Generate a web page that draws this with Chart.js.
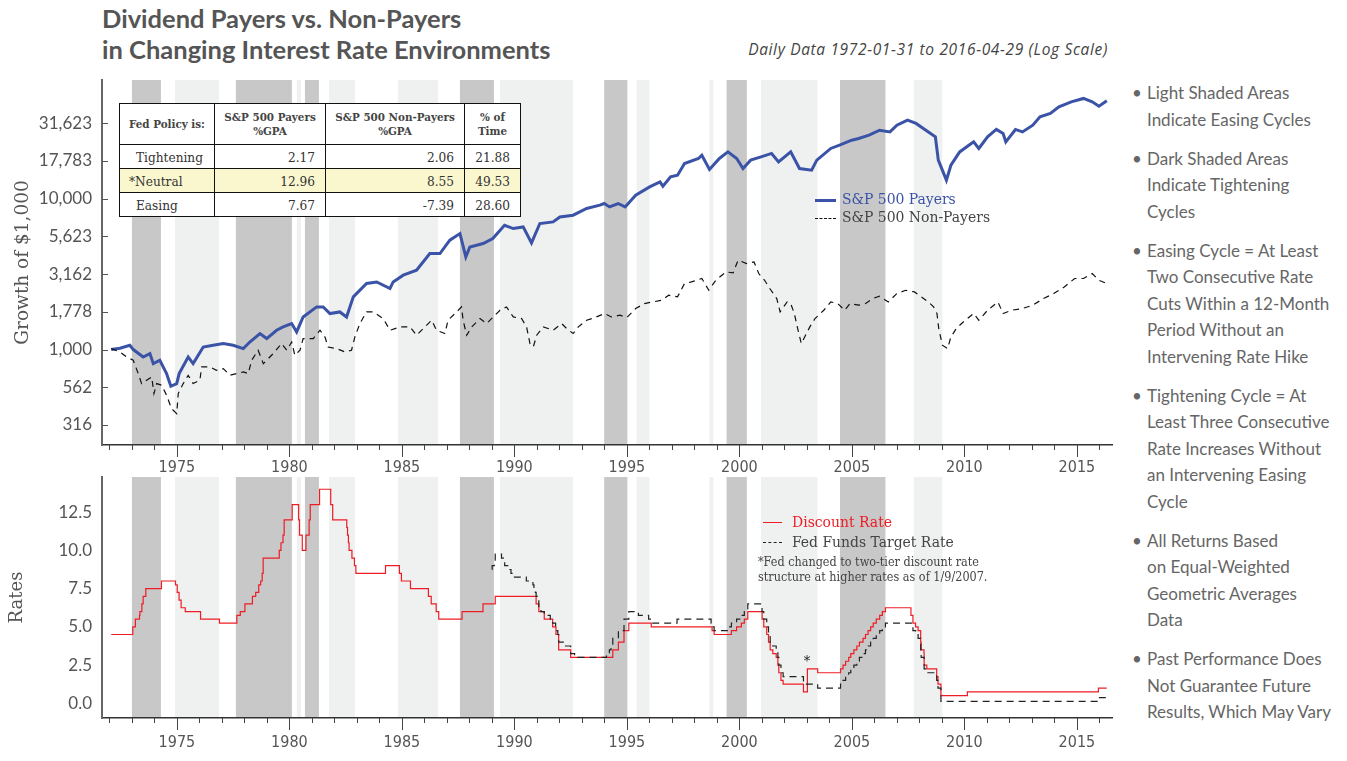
<!DOCTYPE html>
<html><head><meta charset="utf-8">
<script src="https://cdn.jsdelivr.net/npm/chart.js@4.4.0/dist/chart.umd.min.js"></script>
<style>
html,body{margin:0;padding:0;background:#fff;}
body{width:1347px;height:761px;overflow:hidden;position:relative;font-family:Lato,sans-serif;}
#title{position:absolute;left:102px;top:3px;font-family:Lato;font-weight:700;font-size:25.5px;color:#555;line-height:31px;white-space:nowrap;}
#subtitle{position:absolute;right:239px;top:38px;font-family:'Open Sans';font-style:italic;font-size:15.5px;letter-spacing:0.65px;color:#444;white-space:nowrap;}
#c1{position:absolute;left:0;top:70px;}
#c2{position:absolute;left:0;top:467px;}
#tbl{position:absolute;left:119px;top:103px;border-collapse:collapse;font-family:'DejaVu Serif Condensed','DejaVu Serif',serif;color:#333;background:#fff;}
#tbl td,#tbl th{border:1.5px solid #111;padding:0;}
#tbl th{font-size:11.5px;font-weight:700;line-height:14px;height:40px;text-align:center;color:#444;}
#tbl td{font-size:13.5px;height:23px;text-align:right;padding-right:10px;}
#tbl td.l{text-align:left;padding-left:16px;padding-right:0;}
#tbl tr.neu td{background:#faf7cf;}
#tbl tr.neu td.l{padding-left:9px;}
.lg{position:absolute;font-family:'DejaVu Serif Condensed','DejaVu Serif',serif;white-space:nowrap;}
.sw{position:absolute;height:0;}
#notes{position:absolute;left:1132px;top:80px;font-family:Lato;font-size:17px;color:#666;line-height:26.5px;}
#notes div{position:relative;padding-left:15px;margin-bottom:12.5px;white-space:nowrap;}
#notes div:before{content:'\2022';position:absolute;left:0;top:0;}
</style></head>
<body>
<div id="title">Dividend Payers vs. Non-Payers<br>in Changing Interest Rate Environments</div>
<div id="subtitle">Daily Data 1972-01-31 to 2016-04-29 (Log Scale)</div>
<canvas id="c1" width="1125" height="410"></canvas>
<canvas id="c2" width="1125" height="294"></canvas>
<table id="tbl"></table>

<div class="sw" style="left:815px;top:199px;width:21px;border-top:3px solid #3a53a7;"></div>
<div class="lg" style="left:842px;top:190px;font-size:15.5px;color:#3a53a7;">S&amp;P 500 Payers</div>
<div class="sw" style="left:815px;top:218px;width:21px;border-top:1.3px dashed #111;"></div>
<div class="lg" style="left:842px;top:208px;font-size:15.5px;color:#444;">S&amp;P 500 Non-Payers</div>

<div class="sw" style="left:763px;top:522px;width:19px;border-top:1.3px solid #ee1c25;"></div>
<div class="lg" style="left:792px;top:513px;font-size:15.5px;color:#ee1c25;">Discount Rate</div>
<div class="sw" style="left:763px;top:542px;width:19px;border-top:1.3px dashed #222;"></div>
<div class="lg" style="left:792px;top:533px;font-size:15.5px;color:#444;">Fed Funds Target Rate</div>
<div class="lg" style="left:758px;top:554px;font-size:12.5px;line-height:15px;color:#444;">*Fed changed to two-tier discount rate<br>structure at higher rates as of 1/9/2007.</div>

<div id="notes">
<div>Light Shaded Areas<br>Indicate Easing Cycles</div>
<div>Dark Shaded Areas<br>Indicate Tightening<br>Cycles</div>
<div>Easing Cycle = At Least<br>Two Consecutive Rate<br>Cuts Within a 12-Month<br>Period Without an<br>Intervening Rate Hike</div>
<div>Tightening Cycle = At<br>Least Three Consecutive<br>Rate Increases Without<br>an Intervening Easing<br>Cycle</div>
<div>All Returns Based<br>on Equal-Weighted<br>Geometric Averages<br>Data</div>
<div>Past Performance Does<br>Not Guarantee Future<br>Results, Which May Vary</div>
</div>

<script>
// ---------- DATA ----------
const xTickLabels = ['1975','1980','1985','1990','1995','2000','2005','2010','2015'];
const growthTicks = [316.23, 562.34, 1000, 1778.28, 3162.28, 5623.41, 10000, 17782.8, 31622.8];
const growthTickLabels = ['316','562','1,000','1,778','3,162','5,623','10,000','17,783','31,623'];
const rateTicks = [0, 2.5, 5, 7.5, 10, 12.5];
const rateTickLabels = ['0.0','2.5','5.0','7.5','10.0','12.5'];

const tighteningStart = [1973.00, 1977.62, 1980.69, 1987.58, 1993.99, 1999.43, 2004.47];
const tighteningEnd   = [1974.29, 1980.11, 1981.31, 1989.09, 1995.02, 2000.33, 2006.49];
const easingStart = [1974.91, 1980.33, 1981.76, 1984.82, 1989.36, 1995.43, 1998.67, 2000.96, 2007.75];
const easingEnd   = [1976.87, 1980.51, 1982.91, 1986.60, 1992.60, 1996.00, 1998.84, 2003.47, 2009.02];

const payersYears = [
1972.08,1972.47,1972.91,1973.06,1973.50,1973.80,1973.95,1974.24,1974.54,1974.73,
1974.99,1975.10,1975.50,1975.72,1976.17,1976.61,1977.06,1977.50,1977.95,1978.24,
1978.69,1978.99,1979.43,1979.72,1980.10,1980.32,1980.61,1981.21,1981.50,1981.80,
1982.24,1982.54,1982.84,1983.43,1983.88,1984.47,1984.61,1985.06,1985.65,1986.24,
1986.69,1987.13,1987.58,1987.84,1988.02,1988.61,1989.04,1989.56,1989.95,1990.39,
1990.76,1991.13,1991.72,1992.02,1992.61,1993.21,1993.80,1993.99,1994.23,1994.61,
1994.92,1995.39,1996.01,1996.47,1996.60,1996.94,1997.25,1997.56,1998.18,1998.33,
1998.67,1999.11,1999.49,1999.88,2000.16,2000.50,2000.96,2001.43,2001.74,2002.28,
2002.67,2003.21,2003.44,2004.06,2004.45,2004.99,2005.30,2005.76,2006.23,2006.69,
2007.00,2007.47,2007.85,2008.40,2008.71,2008.84,2009.20,2009.40,2009.79,2010.41,
2010.64,2011.03,2011.42,2011.72,2011.84,2012.27,2012.58,2013.04,2013.36,2013.82,
2014.20,2014.75,2015.29,2015.68,2015.98,2016.33];
const payersValues = [
1000,1020,1068,1000,893,941,807,849,693,571,
595,693,893,807,1040,1068,1096,1068,1015,1122,
1277,1183,1343,1413,1487,1308,1645,1917,1917,1733,
1776,1645,2234,2740,2807,2539,2807,3110,3357,4330,
4330,5308,5875,4111,4786,5042,5440,6668,6340,6500,
5090,6845,7015,7570,7775,8610,9058,9290,8823,9290,
8823,10550,11970,12910,12100,13950,14320,17120,18480,19430,
15620,18480,20420,18480,15850,18000,18930,19950,17540,20420,
15850,15450,18000,21530,22640,24430,25060,26360,28450,27720,
30720,33160,31530,27720,25700,18000,13270,16670,20420,23800,
21530,25700,28770,27060,23800,28770,27720,30720,34860,36720,
40630,43850,46190,43850,41060,44530];

const nonPayersYears = [
1972.08,1972.47,1972.76,1973.06,1973.28,1973.43,1973.65,1973.88,1973.98,1974.10,
1974.32,1974.54,1974.76,1974.99,1975.06,1975.28,1975.50,1975.72,1976.02,1976.10,
1976.47,1976.76,1977.06,1977.36,1977.65,1977.95,1978.17,1978.32,1978.61,1978.84,
1978.99,1979.28,1979.65,1979.88,1980.10,1980.24,1980.47,1980.61,1981.06,1981.36,
1981.58,1981.72,1982.10,1982.47,1982.76,1982.91,1983.13,1983.43,1983.72,1984.17,
1984.47,1984.91,1985.36,1985.65,1986.02,1986.32,1986.54,1986.91,1987.05,1987.36,
1987.65,1987.72,1987.88,1988.10,1988.47,1988.76,1989.06,1989.36,1989.65,1989.95,
1990.32,1990.54,1990.69,1990.84,1990.99,1991.28,1991.72,1992.10,1992.32,1992.61,
1992.84,1993.21,1993.58,1994.00,1994.31,1994.69,1995.00,1995.39,1995.78,1996.16,
1996.55,1996.86,1997.25,1997.56,1997.87,1998.33,1998.64,1998.95,1999.41,1999.72,
1999.94,2000.32,2000.65,2000.86,2001.12,2001.35,2001.66,2001.81,2002.12,2002.28,
2002.44,2002.59,2002.75,2002.90,2003.13,2003.36,2003.75,2004.06,2004.37,2004.68,
2004.91,2005.30,2005.61,2005.92,2006.23,2006.62,2007.00,2007.39,2007.78,2008.09,
2008.40,2008.63,2008.78,2008.86,2009.02,2009.25,2009.40,2009.64,2009.95,2010.41,
2010.64,2011.03,2011.49,2011.72,2012.11,2012.58,2013.04,2013.51,2013.97,2014.44,
2014.90,2015.29,2015.68,2015.98,2016.33];
const nonPayersValues = [
1015,964,893,849,693,595,626,658,511,595,
580,498,406,376,511,595,675,595,626,767,
767,729,748,675,693,710,693,849,990,807,
849,941,1096,990,1122,917,990,1183,1183,1343,
1212,1040,1015,964,990,1212,1487,1776,1776,1605,
1343,1413,1413,1244,1413,1564,1343,1277,1564,1733,
1917,1564,1244,1413,1605,1487,1645,1823,1917,1645,
1605,1413,1096,1040,1244,1413,1343,1487,1378,1277,
1413,1564,1630,1733,1645,1689,1630,1871,2018,2069,
2123,2291,2234,2740,2807,2958,2472,2880,3270,3220,
3910,3715,3810,3190,2880,2539,2178,1776,2069,2018,
1733,1378,1096,1212,1413,1605,1823,2069,2018,1823,
2018,1968,2018,2178,2257,2069,2352,2472,2410,2234,
2069,1917,1733,1378,1068,1015,1212,1378,1524,1733,
1564,1823,2069,1733,1823,1871,1968,2178,2352,2600,
2958,2958,3190,2880,2740];

const discountDates = ['1972-01-31','1973-01-15','1973-02-26','1973-05-04','1973-05-11','1973-06-11','1973-07-02','1973-08-14','1974-04-25','1974-12-09',
'1975-01-06','1975-02-05','1975-03-10','1975-05-16','1976-01-19','1976-11-22','1977-08-31','1977-10-26','1978-01-09','1978-05-11',
'1978-07-03','1978-08-21','1978-09-22','1978-10-16','1978-11-01','1979-07-20','1979-08-17','1979-09-19','1979-10-08','1980-02-15',
'1980-05-30','1980-06-13','1980-07-28','1980-09-26','1980-11-17','1980-12-05','1981-05-05','1981-11-02','1981-12-04','1982-07-20',
'1982-08-02','1982-08-16','1982-08-27','1982-10-12','1982-11-22','1982-12-15','1984-04-09','1984-11-21','1984-12-24','1985-05-20',
'1986-03-07','1986-04-21','1986-07-11','1986-08-21','1987-09-04','1988-08-09','1989-02-24','1990-12-19','1991-02-01','1991-04-30',
'1991-09-13','1991-11-06','1991-12-20','1992-07-02','1994-05-17','1994-08-16','1994-11-15','1995-02-01','1996-01-31','1998-10-15',
'1998-11-17','1999-08-24','1999-11-16','2000-02-02','2000-03-21','2000-05-16','2001-01-04','2001-01-31','2001-03-20','2001-04-18',
'2001-05-15','2001-06-27','2001-08-21','2001-09-17','2001-10-02','2001-11-06','2001-12-11','2002-11-06','2003-01-09','2003-06-25',
'2004-06-30','2004-08-10','2004-09-21','2004-11-10','2004-12-14','2005-02-02','2005-03-22','2005-05-03','2005-06-30','2005-08-09',
'2005-09-20','2005-11-01','2005-12-13','2006-01-31','2006-03-28','2006-05-10','2006-06-29','2007-08-17','2007-09-18','2007-10-31',
'2007-12-11','2008-01-22','2008-01-30','2008-03-16','2008-03-18','2008-04-30','2008-10-08','2008-10-29','2008-12-16','2010-02-18',
'2015-12-16','2016-04-29'];
const discountRates = [4.5,5.0,5.5,5.75,6.0,6.5,7.0,7.5,8.0,7.75,
7.25,6.75,6.25,6.0,5.5,5.25,5.75,6.0,6.5,7.0,
7.25,7.75,8.0,8.5,9.5,10.0,10.5,11.0,12.0,13.0,
12.0,11.0,10.0,11.0,12.0,13.0,14.0,13.0,12.0,11.5,
11.0,10.5,10.0,9.5,9.0,8.5,9.0,8.5,8.0,7.5,
7.0,6.5,6.0,5.5,6.0,6.5,7.0,6.5,6.0,5.5,
5.0,4.5,3.5,3.0,3.5,4.0,4.75,5.25,5.0,4.75,
4.5,4.75,5.0,5.25,5.5,6.0,5.5,5.0,4.5,4.0,
3.5,3.25,3.0,2.5,2.0,1.5,1.25,0.75,2.25,2.0,
2.25,2.5,2.75,3.0,3.25,3.5,3.75,4.0,4.25,4.5,
4.75,5.0,5.25,5.5,5.75,6.0,6.25,5.75,5.25,5.0,
4.75,4.0,3.5,3.25,2.5,2.25,1.75,1.25,0.5,0.75,
1.0,1.0];

const fedFundsDates = ['1989-01-03','1989-01-05','1989-02-09','1989-02-23','1989-02-24','1989-06-06','1989-07-07','1989-07-27','1989-10-18','1989-11-06',
'1989-12-20','1990-07-13','1990-10-29','1990-11-14','1990-12-07','1990-12-19','1991-01-09','1991-02-01','1991-03-08','1991-04-30',
'1991-08-06','1991-09-13','1991-10-31','1991-11-06','1991-12-06','1991-12-20','1992-04-09','1992-07-02','1992-09-04','1994-02-04',
'1994-03-22','1994-04-18','1994-05-17','1994-08-16','1994-11-15','1995-02-01','1995-07-06','1995-12-19','1996-01-31','1997-03-25',
'1998-09-29','1998-10-15','1998-11-17','1999-06-30','1999-08-24','1999-11-16','2000-02-02','2000-03-21','2000-05-16','2001-01-03',
'2001-01-31','2001-03-20','2001-04-18','2001-05-15','2001-06-27','2001-08-21','2001-09-17','2001-10-02','2001-11-06','2001-12-11',
'2002-11-06','2003-06-25','2004-06-30','2004-08-10','2004-09-21','2004-11-10','2004-12-14','2005-02-02','2005-03-22','2005-05-03',
'2005-06-30','2005-08-09','2005-09-20','2005-11-01','2005-12-13','2006-01-31','2006-03-28','2006-05-10','2006-06-29','2007-09-18',
'2007-10-31','2007-12-11','2008-01-22','2008-01-30','2008-03-18','2008-04-30','2008-10-08','2008-10-29','2008-12-16','2015-12-16',
'2016-04-29'];
const fedFundsRates = [8.75,9.0,9.25,9.5,9.75,9.5,9.25,9.0,8.75,8.5,
8.25,8.0,7.75,7.5,7.25,7.0,6.75,6.25,6.0,5.75,
5.5,5.25,5.0,4.75,4.5,4.0,3.75,3.25,3.0,3.25,
3.5,3.75,4.25,4.75,5.5,6.0,5.75,5.5,5.25,5.5,
5.25,5.0,4.75,5.0,5.25,5.5,5.75,6.0,6.5,6.0,
5.5,5.0,4.5,4.0,3.75,3.5,3.0,2.5,2.0,1.75,
1.25,1.0,1.25,1.5,1.75,2.0,2.25,2.5,2.75,3.0,
3.25,3.5,3.75,4.0,4.25,4.5,4.75,5.0,5.25,4.75,
4.5,4.25,3.5,3.0,2.25,2.0,1.5,1.0,0.125,0.375,
0.375];

const tableHeader = ['Fed Policy is:', 'S&amp;P 500 Payers<br>%GPA', 'S&amp;P 500 Non-Payers<br>%GPA', '% of<br>Time'];
const tablePolicies = ['Tightening', '*Neutral', 'Easing'];
const tablePayers = ['2.17', '12.96', '7.67'];
const tableNonPayers = ['2.06', '8.55', '-7.39'];
const tableTime = ['21.88', '49.53', '28.60'];

// ---------- TABLE ----------
(function(){
  const t = document.getElementById('tbl');
  const widths = [94, 110, 138, 55];
  let h = '<tr>' + tableHeader.map((s,i)=>'<th style="width:'+widths[i]+'px">'+s+'</th>').join('') + '</tr>';
  tablePolicies.forEach((p,i)=>{
    h += '<tr' + (i===1?' class="neu"':'') + '><td class="l">'+p+'</td><td>'+tablePayers[i]+'</td><td>'+tableNonPayers[i]+'</td><td>'+tableTime[i]+'</td></tr>';
  });
  t.innerHTML = h;
})();

// ---------- HELPERS ----------
function toYear(s){
  const d = new Date(s + 'T00:00:00Z');
  const y = d.getUTCFullYear();
  const start = Date.UTC(y,0,1), end = Date.UTC(y+1,0,1);
  return y + (d.getTime()-start)/(end-start);
}
const X_MIN = 1971.67, X_MAX = 2016.56;
const yearTicks = [];
for (let y = 1972; y <= 2016; y++) yearTicks.push(y);

const DARK = '#c8c8c8', LIGHT = '#eff0f0';

const decorPlugin = {
  id: 'decor',
  beforeDraw(chart) {
    const {ctx, chartArea:{top,bottom}, scales:{x}} = chart;
    ctx.save();
    ctx.fillStyle = LIGHT;
    easingStart.forEach((a,i)=>{ const x0=x.getPixelForValue(a), x1=x.getPixelForValue(easingEnd[i]); ctx.fillRect(x0, top, x1-x0, bottom-top); });
    ctx.fillStyle = DARK;
    tighteningStart.forEach((a,i)=>{ const x0=x.getPixelForValue(a), x1=x.getPixelForValue(tighteningEnd[i]); ctx.fillRect(x0, top, x1-x0, bottom-top); });
    ctx.restore();
  },
  afterDraw(chart, args, opts) {
    const {ctx, chartArea:{left,bottom}, scales:{x,y}} = chart;
    ctx.save();
    ctx.strokeStyle = '#444'; ctx.lineWidth = 1;
    x.ticks.forEach(t=>{
      const px = Math.round(x.getPixelForValue(t.value)) + 0.5;
      const len = xTickLabels.includes(String(t.value)) ? 12 : 5;
      ctx.beginPath(); ctx.moveTo(px, bottom); ctx.lineTo(px, bottom+len); ctx.stroke();
    });
    if (opts.yTicks) {
      ctx.strokeStyle = '#555';
      y.ticks.forEach(t=>{
        const py = Math.round(y.getPixelForValue(t.value)) + 0.5;
        ctx.beginPath(); ctx.moveTo(left, py); ctx.lineTo(left+6, py); ctx.stroke();
      });
    }
    if (opts.star) {
      ctx.fillStyle = '#222';
      ctx.font = '14px "DejaVu Sans"';
      ctx.textAlign = 'center'; ctx.textBaseline = 'middle';
      ctx.fillText('*', x.getPixelForValue(opts.star[0]), y.getPixelForValue(opts.star[1]));
    }
    ctx.restore();
  }
};

const xAxis = (pad, h) => ({
  type: 'linear', min: X_MIN, max: X_MAX,
  afterBuildTicks: s => { s.ticks = yearTicks.map(v => ({value: v})); },
  afterFit: s => { s.height = h; s.paddingLeft = 0; s.paddingRight = 0; },
  ticks: { autoSkip: false, maxRotation: 0, padding: pad, color: '#555',
    font: { family: "'Liberation Sans Narrow','DejaVu Sans Condensed',sans-serif", size: 16 },
    callback: v => xTickLabels.includes(String(v)) ? String(v) : '' },
  grid: { display: false, drawTicks: false },
  border: { display: true, color: '#333', width: 1.5 }
});
const yFit = s => { s.width = 102; s.paddingTop = 0; s.paddingBottom = 0; };

Chart.defaults.animation = false;

// ---------- TOP CHART ----------
new Chart(document.getElementById('c1'), {
  type: 'line',
  data: { datasets: [
    { label: 'S&P 500 Non-Payers', data: nonPayersYears.map((v,i)=>({x:v, y:nonPayersValues[i]})),
      borderColor: '#111', borderWidth: 1.2, borderDash: [6,5], pointRadius: 0, fill: false },
    { label: 'S&P 500 Payers', data: payersYears.map((v,i)=>({x:v, y:payersValues[i]})),
      borderColor: '#3a53a7', borderWidth: 3, pointRadius: 0, fill: false }
  ]},
  options: {
    responsive: false, devicePixelRatio: 1, animation: false,
    layout: { padding: { top: 10, right: 13, left: 0, bottom: 0 } },
    plugins: { legend: { display: false }, tooltip: { enabled: false }, decor: { yTicks: true } },
    scales: {
      x: xAxis(13, 35),
      y: { type: 'logarithmic', min: 233, max: 61200,
        afterBuildTicks: s => { s.ticks = growthTicks.map(v => ({value: v})); },
        afterFit: yFit,
        ticks: { padding: 10, color: '#555', font: { family: 'Lato', size: 17 },
          callback: (v, i) => growthTickLabels[i] },
        grid: { display: false, drawTicks: false },
        border: { display: true, color: '#666', width: 2 },
        title: { display: true, text: 'Growth of $1,000', color: '#555',
          font: { family: "'DejaVu Serif',serif", size: 18.5 }, padding: { top: 12, bottom: 0 } }
      }
    }
  },
  plugins: [decorPlugin]
});

// ---------- BOTTOM CHART ----------
new Chart(document.getElementById('c2'), {
  type: 'line',
  data: { datasets: [
    { label: 'Fed Funds Target Rate', data: fedFundsDates.map((d,i)=>({x:toYear(d), y:fedFundsRates[i]})),
      borderColor: '#222', borderWidth: 1.2, borderDash: [7,5], pointRadius: 0, stepped: 'before', fill: false },
    { label: 'Discount Rate', data: discountDates.map((d,i)=>({x:toYear(d), y:discountRates[i]})),
      borderColor: '#ee1c25', borderWidth: 1.2, pointRadius: 0, stepped: 'before', fill: false }
  ]},
  options: {
    responsive: false, devicePixelRatio: 1, animation: false,
    layout: { padding: { top: 10, right: 13, left: 0, bottom: 0 } },
    plugins: { legend: { display: false }, tooltip: { enabled: false }, decor: { yTicks: false, star: [2003.0, 2.75] } },
    scales: {
      x: xAxis(15, 43),
      y: { type: 'linear', min: -0.96, max: 14.8,
        afterBuildTicks: s => { s.ticks = rateTicks.map(v => ({value: v})); },
        afterFit: yFit,
        ticks: { padding: 10, color: '#555', font: { family: 'Lato', size: 17 },
          callback: (v, i) => rateTickLabels[i] },
        grid: { display: false, drawTicks: false },
        border: { display: true, color: '#666', width: 2 },
        title: { display: true, text: 'Rates', color: '#555',
          font: { family: "'DejaVu Serif',serif", size: 18 }, padding: { top: 7, bottom: 0 } }
      }
    }
  },
  plugins: [decorPlugin]
});
</script>
</body></html>
